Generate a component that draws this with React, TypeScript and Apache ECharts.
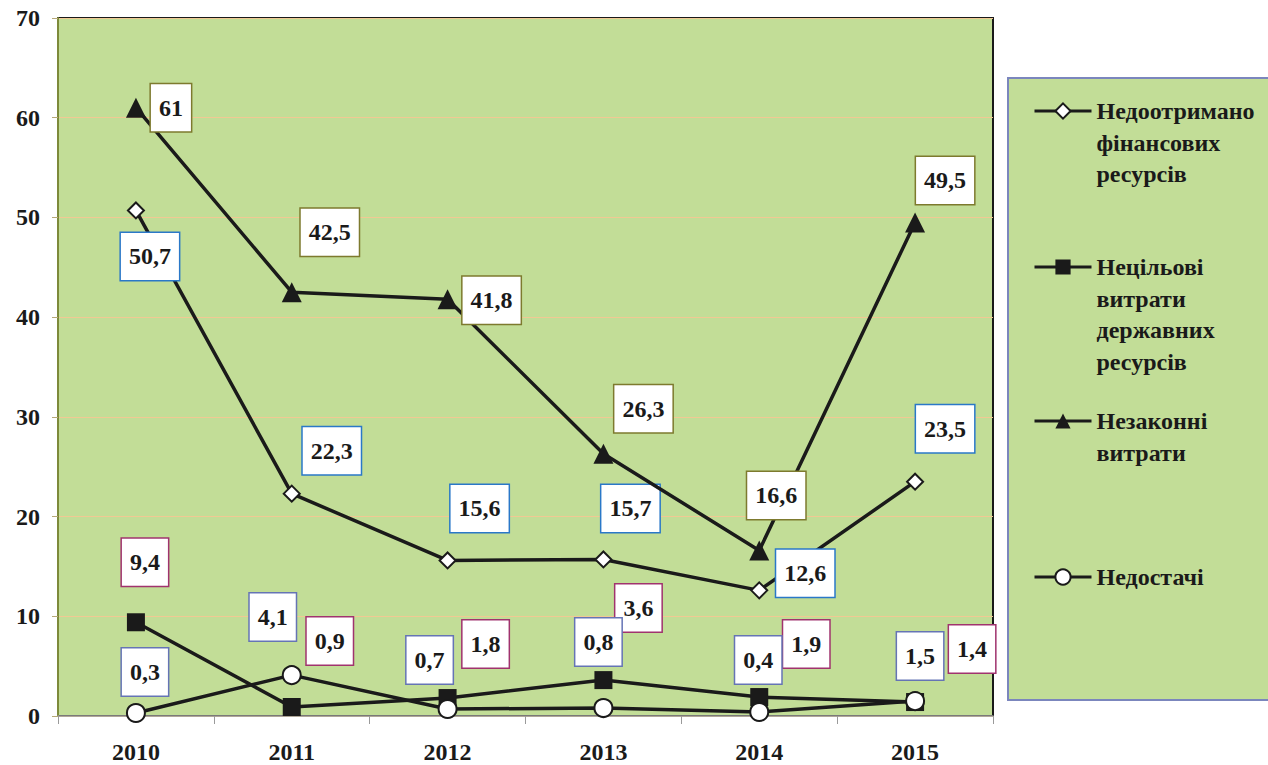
import React, { useEffect, useRef } from 'react';
import * as echarts from 'echarts';

const years = ['2010', '2011', '2012', '2013', '2014', '2015'];
const underReceived = [50.7, 22.3, 15.6, 15.7, 12.6, 23.5];
const nonTarget = [9.4, 0.9, 1.8, 3.6, 1.9, 1.4];
const illegal = [61, 42.5, 41.8, 26.3, 16.6, 49.5];
const shortages = [0.3, 4.1, 0.7, 0.8, 0.4, 1.5];

const names = [
  'Недоотримано фінансових ресурсів',
  'Нецільові витрати державних ресурсів',
  'Незаконні витрати',
  'Недостачі',
];
const legendLines = [
  ['Недоотримано', 'фінансових', 'ресурсів'],
  ['Нецільові', 'витрати', 'державних', 'ресурсів'],
  ['Незаконні', 'витрати'],
  ['Недостачі'],
];

// label placement (styling)
const offUnder = [[14, 46], [40, -43], [32, -52], [27, -51], [46, -17], [30, -53]];
const offNonTarget = [[9, -60], [38, -66], [38, -54], [35, -72], [47, -53], [57, -53]];
const offIllegal = [[35, 0], [38, -60], [44, 1], [40, -45], [17, -55], [30, -42]];
const offShort = [[9, -41], [-19, -58], [-18, -49], [-5, -66], [-1, -52], [5, -45]];

const FONT = 'Liberation Serif';
const GREEN = '#c2dd97';
const INK = '#1a1a1a';

function mkSeries(name: string, values: number[], offs: number[][], symbol: string, size: number, fill: string, labelBorder: string, z: number) {
  return {
    name,
    type: 'line',
    z,
    symbol,
    symbolSize: size,
    lineStyle: { color: INK, width: 3.5 },
    itemStyle: { color: fill, borderColor: INK, borderWidth: fill === '#ffffff' ? 2 : 0 },
    data: values.map((v, i) => ({
      value: v,
      label: { offset: offs[i] },
    })),
    label: {
      show: true,
      position: 'inside',
      formatter: (p: any) => String(p.value).replace('.', ','),
      fontFamily: FONT,
      fontWeight: 'bold',
      fontSize: 24,
      color: INK,
      backgroundColor: '#ffffff',
      borderColor: labelBorder,
      borderWidth: 1.5,
      padding: [12, 8, 11, 8],
      lineHeight: 24,
    },
  };
}

export default function App() {
  const ref = useRef<HTMLDivElement>(null);
  useEffect(() => {
    const chart = echarts.init(ref.current!, undefined, { renderer: 'svg' });
    const L = 31.5;
    const firstLineY = [111, 267, 421, 577];
    const legends = legendLines.map((lines, i) => {
      const n = lines.length;
      return {
        data: [names[i]],
        orient: 'vertical',
        left: 1033,
        top: firstLineY[i] - (n - 0.5) * L,
        padding: 0,
        itemWidth: 57,
        itemHeight: 19,
        itemGap: 6,
        selectedMode: false,
        lineStyle: { width: 3, color: INK },
        formatter: () => '\n'.repeat(n - 1) + lines.join('\n'),
        textStyle: {
          fontFamily: FONT,
          fontWeight: 'bold',
          fontSize: 24,
          lineHeight: L,
          color: INK,
        },
      };
    });
    chart.setOption({
      animation: false,
      backgroundColor: '#ffffff',
      grid: {
        left: 58,
        right: 275,
        top: 18,
        bottom: 49,
        show: true,
        backgroundColor: GREEN,
        borderColor: INK,
        borderWidth: 2,
      },
      graphic: [
        {
          type: 'rect',
          shape: { x: 1008, y: 78, width: 270, height: 622 },
          style: { fill: GREEN, stroke: '#7b86bd', lineWidth: 2 },
          z: -1,
        },
      ],
      legend: legends,
      xAxis: {
        type: 'category',
        data: years,
        boundaryGap: true,
        axisLine: { show: true, lineStyle: { color: '#9a9a9a', width: 1.5 } },
        axisTick: { show: true, length: 8, lineStyle: { color: '#9a9a9a' } },
        axisLabel: {
          margin: 24,
          fontFamily: FONT,
          fontWeight: 'bold',
          fontSize: 24,
          color: INK,
        },
        splitLine: { show: false },
      },
      yAxis: {
        type: 'value',
        min: 0,
        max: 70,
        interval: 10,
        axisLine: { show: true, lineStyle: { color: '#7d8a3a', width: 2 } },
        axisTick: { show: true, length: 6, lineStyle: { color: '#b5a878' } },
        axisLabel: {
          margin: 18,
          fontFamily: FONT,
          fontWeight: 'bold',
          fontSize: 24,
          color: INK,
        },
        splitLine: { show: true, lineStyle: { color: '#f0c993', width: 1 } },
      },
      series: [
        mkSeries(names[0], underReceived, offUnder, 'diamond', 16, '#ffffff', '#2a78c8', 3),
        mkSeries(names[1], nonTarget, offNonTarget, 'rect', 18, INK, '#a0336e', 4),
        mkSeries(names[2], illegal, offIllegal, 'triangle', 20, INK, '#7d7a2e', 5),
        mkSeries(names[3], shortages, offShort, 'circle', 18, '#ffffff', '#6574b5', 6),
      ],
    });
    return () => chart.dispose();
  }, []);
  return (
    <div
      ref={ref}
      style={{ position: 'fixed', left: 0, top: 0, width: 1268, height: 765 }}
    />
  );
}
